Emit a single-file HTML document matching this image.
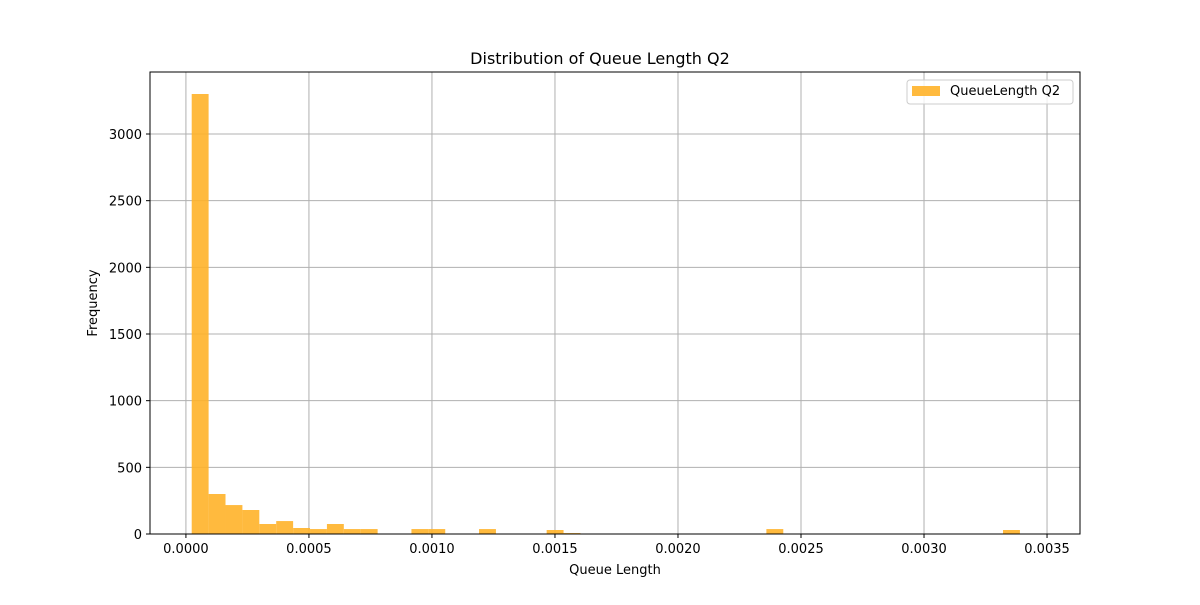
<!DOCTYPE html>
<html><head><meta charset="utf-8"><style>
body{margin:0;background:#fff;font-family:"Liberation Sans","DejaVu Sans",sans-serif}
</style></head><body>
<svg id="chart" width="1200" height="600" xmlns="http://www.w3.org/2000/svg" font-family="DejaVu Sans, Liberation Sans, sans-serif">
<rect width="1200" height="600" fill="#fff"/>
<g id="grid"></g>
<g id="bars"></g>
<rect x="150" y="72" width="930" height="462" fill="none" stroke="#000" stroke-width="1"/>
<g id="xticks" font-size="13"></g>
<g id="yticks" font-size="13"></g>
<text x="600" y="64" text-anchor="middle" font-size="16">Distribution of Queue Length Q2</text>
<text x="615" y="574" text-anchor="middle" font-size="13">Queue Length</text>
<text x="97" y="303" text-anchor="middle" font-size="13" transform="rotate(-90 97 303)">Frequency</text>
<g>
<rect x="907" y="80" width="166" height="24" rx="3" fill="#fff" fill-opacity="0.8" stroke="#ccc"/>
<rect x="912" y="86" width="28" height="10" fill="#ffb329" fill-opacity="0.9"/>
<text x="950" y="95" font-size="13">QueueLength Q2</text>
</g>
</svg>
<script>
const binStart = 0.0000235;
const binWidth = 0.0000687;
const counts = [3300,300,217,180,75,97,45,37,75,37,37,0,0,37,37,0,0,37,0,0,0,30,7,0,0,0,0,0,0,0,0,0,0,0,37,0,0,0,0,0,0,0,0,0,0,0,0,0,30,3];
const xTicks = [0,0.0005,0.001,0.0015,0.002,0.0025,0.003,0.0035];
const xTickLabels = ["0.0000","0.0005","0.0010","0.0015","0.0020","0.0025","0.0030","0.0035"];
const yTicks = [0,500,1000,1500,2000,2500,3000];

const L=150,R=1080,T=72,B=534;
const xMin=-0.000146, xMax=0.003634, yMax=3465;
const xs=v=>L+(v-xMin)/(xMax-xMin)*(R-L);
const ys=v=>B-v/yMax*(B-T);
const NS="http://www.w3.org/2000/svg";
function mk(tag,attrs,parent){const e=document.createElementNS(NS,tag);for(const k in attrs)e.setAttribute(k,attrs[k]);parent.appendChild(e);return e;}
const grid=document.getElementById('grid'),bars=document.getElementById('bars'),xt=document.getElementById('xticks'),yt=document.getElementById('yticks');
xTicks.forEach((v,i)=>{const x=xs(v);
 const g=mk('line',{x1:x,x2:x,y1:T,y2:B,stroke:'#b0b0b0','stroke-width':1},grid);
 
 
 mk('line',{x1:x,x2:x,y1:B,y2:B+4,stroke:'#000'},xt);
 const t=mk('text',{x:x,y:B+19,'text-anchor':'middle'},xt);t.textContent=xTickLabels[i];
 
 
});
yTicks.forEach(v=>{const y=ys(v);
 const g=mk('line',{x1:L,x2:R,y1:y,y2:y,stroke:'#b0b0b0','stroke-width':1},grid);
 
 
 mk('line',{x1:L-4,x2:L,y1:y,y2:y,stroke:'#000'},yt);
 const t=mk('text',{x:L-8,y:y+5,'text-anchor':'end'},yt);t.textContent=String(v);
 
 
});
counts.forEach((c,i)=>{if(c<=0)return;
 const x0=xs(binStart+i*binWidth),x1=xs(binStart+(i+1)*binWidth);
 const b=mk('rect',{x:x0,y:ys(c),width:x1-x0,height:B-ys(c),fill:'#ffb329','fill-opacity':0.9},bars);
 
 
});
</script>
</body></html>
